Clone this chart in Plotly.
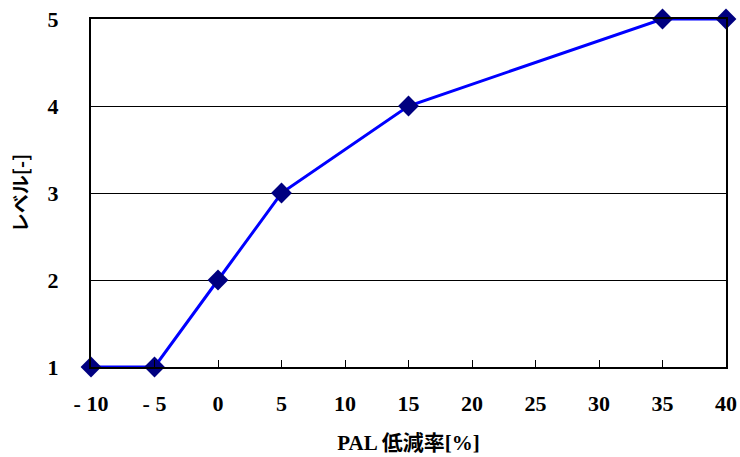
import plotly.graph_objects as go

x_vals = [-10, -5, 0, 5, 15, 35, 40]
y_vals = [1, 1, 2, 3, 4, 5, 5]
x_ticks = [-10, -5, 0, 5, 10, 15, 20, 25, 30, 35, 40]
x_ticktext = ["- 10", "- 5", "0", "5", "10", "15", "20", "25", "30", "35", "40"]
y_ticks = [1, 2, 3, 4, 5]

serif = "Liberation Serif, DejaVu Serif, serif"

fig = go.Figure()
fig.add_trace(go.Scatter(
    x=x_vals, y=y_vals, mode="lines+markers",
    line=dict(color="#0000FF", width=3),
    marker=dict(symbol="diamond", size=16, color="#000080"),
    cliponaxis=False, showlegend=False,
))
fig.update_layout(
    width=740, height=457,
    margin=dict(l=91, r=14, t=19, b=90, autoexpand=False),
    plot_bgcolor="white", paper_bgcolor="white",
    font=dict(family=serif, size=21, color="black"),
)
fig.update_xaxes(
    range=[-10, 40], tickvals=x_ticks, ticktext=x_ticktext,
    showgrid=False, zeroline=False, automargin=False,
    showline=True, linecolor="black", linewidth=2, mirror=True,
    ticks="inside", ticklen=7, tickcolor="black", tickwidth=1,
    ticklabelstandoff=16, ticklabeloverflow="allow",
    tickfont=dict(family=serif, size=22, weight="bold"),
    title=dict(text="<b>PAL 低減率[%]</b>", font=dict(family="Liberation Serif, Noto Sans CJK JP", size=21), standoff=20),
)
fig.update_yaxes(
    range=[1, 5], tickvals=y_ticks,
    showgrid=True, gridcolor="black", gridwidth=1, zeroline=False, automargin=False,
    showline=True, linecolor="black", linewidth=2, mirror=True,
    ticks="", ticklabelstandoff=26, ticklabeloverflow="allow",
    tickfont=dict(family=serif, size=22, weight="bold"),
    title=dict(text="<b>レベル[-]</b>", font=dict(family="Noto Sans CJK JP", size=19), standoff=14),
)
fig.write_html(
    "out.html",
    config={"displayModeBar": False},
    post_script="document.body.style.margin='0';document.body.style.overflow='hidden';",
)
